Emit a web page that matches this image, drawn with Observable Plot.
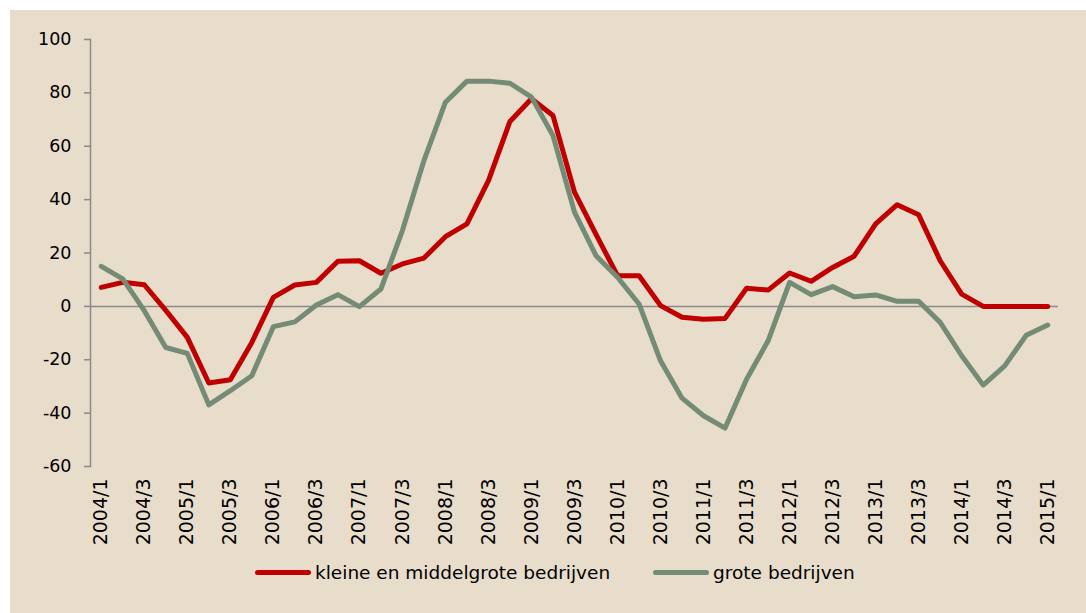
<!DOCTYPE html>
<html><head><meta charset="utf-8">
<script src="https://cdn.jsdelivr.net/npm/d3@7"></script>
<script src="https://cdn.jsdelivr.net/npm/@observablehq/plot@0.6"></script>
<style>
body{margin:0;background:#fff;}
#wrap{position:absolute;left:10px;top:10px;width:1076px;height:603px;background:#E8DCCB;font-family:"DejaVu Sans",Verdana,sans-serif;}
#legend{display:flex;align-items:center;height:24px;margin-left:245px;font-size:18.5px;color:#000;}
.sw{display:inline-block;width:56px;height:5px;border-radius:3px;margin-right:4px;}
.item{display:flex;align-items:center;margin-right:43px;white-space:nowrap;}
</style></head><body><div id="wrap"><div id="chart"></div><div id="legend"></div></div>
<script>
const quarters = ["2004/1","2004/2","2004/3","2004/4","2005/1","2005/2","2005/3","2005/4",
  "2006/1","2006/2","2006/3","2006/4","2007/1","2007/2","2007/3","2007/4",
  "2008/1","2008/2","2008/3","2008/4","2009/1","2009/2","2009/3","2009/4",
  "2010/1","2010/2","2010/3","2010/4","2011/1","2011/2","2011/3","2011/4",
  "2012/1","2012/2","2012/3","2012/4","2013/1","2013/2","2013/3","2013/4",
  "2014/1","2014/2","2014/3","2014/4","2015/1"];
const tickLabels = ["2004/1","2004/3","2005/1","2005/3","2006/1","2006/3","2007/1","2007/3",
  "2008/1","2008/3","2009/1","2009/3","2010/1","2010/3","2011/1","2011/3","2012/1","2012/3",
  "2013/1","2013/3","2014/1","2014/3","2015/1"];
const yTicks = [-60,-40,-20,0,20,40,60,80,100];
const series = ["kleine en middelgrote bedrijven","grote bedrijven"];
const colors = ["#C00000","#748B75"];
const kmb = [7.1,9,8.1,-1.5,-11.6,-28.7,-27.5,-13.5,3.4,8,9,16.9,17.1,12.4,15.9,18.1,
  26.1,30.9,47.1,69.3,77.8,71.5,42.8,27,11.5,11.5,0.3,-4.1,-4.8,-4.5,6.8,6.1,
  12.5,9.4,14.6,18.8,30.9,38.1,34.3,17.1,4.6,0,0,0,0];
const grote = [15,10.3,-1.6,-15.4,-17.6,-36.9,-31.6,-26,-7.6,-5.8,0.5,4.4,-0.1,6.5,28.4,54.6,
  76.5,84.4,84.4,83.6,78.4,64,35.3,19,10.9,0.9,-20.4,-34.4,-41,-45.6,-27.3,-12.9,
  9,4.4,7.4,3.6,4.3,1.9,1.9,-6,-18.5,-29.5,-22.3,-10.8,-7];

const data = [];
quarters.forEach((q,i)=>data.push({i, q, v:kmb[i], s:series[0]}));
quarters.forEach((q,i)=>data.push({i, q, v:grote[i], s:series[1]}));
const tickIdx = tickLabels.map(t => quarters.indexOf(t));

const chart = Plot.plot({
  width:1076, height:550, marginTop:29, marginBottom:94, marginLeft:80, marginRight:28,
  style:{background:"transparent", fontFamily:"DejaVu Sans, Verdana, sans-serif", color:"#000"},
  x:{type:"linear", domain:[-0.5, quarters.length - 0.5]},
  y:{domain:[-60,100]},
  color:{domain:series, range:colors},
  marks:[
    Plot.frame({anchor:"left", stroke:"#8a8a8a", strokeWidth:1.5}),
    Plot.ruleY([0], {stroke:"#8a8a8a", strokeWidth:1.5}),
    Plot.axisY({ticks:yTicks, tickFormat:d => String(d), tickSize:6, tickPadding:13, fontSize:17.5, stroke:"#8a8a8a", strokeWidth:1.5, fill:"#000", label:null}),
    Plot.axisX({ticks:tickIdx, tickFormat:i => quarters[i], tickSize:0, tickPadding:12, tickRotate:-90, fontSize:19, fill:"#000", label:null}),
    Plot.line(data, {x:"i", y:"v", z:"s", stroke:"s", strokeWidth:5, strokeLinejoin:"round", strokeLinecap:"round"})
  ]
});
document.getElementById("chart").appendChild(chart);

const leg = document.getElementById("legend");
series.forEach((s,i)=>{
  const it = document.createElement("div"); it.className="item";
  const sw = document.createElement("span"); sw.className="sw"; sw.style.background=colors[i];
  const t = document.createElement("span"); t.textContent = s;
  it.appendChild(sw); it.appendChild(t); leg.appendChild(it);
});
</script></body></html>
